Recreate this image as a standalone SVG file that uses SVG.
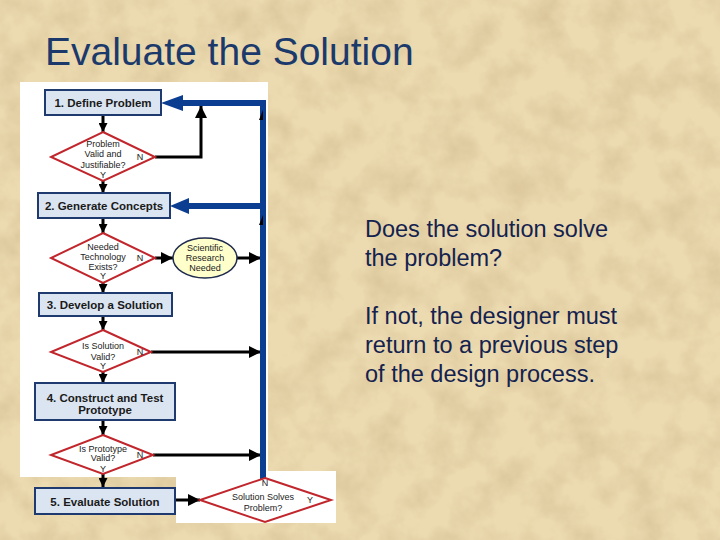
<svg xmlns="http://www.w3.org/2000/svg" width="720" height="540" viewBox="0 0 720 540">
<defs>
<filter id="parch" x="0" y="0" width="100%" height="100%">
<feTurbulence type="fractalNoise" baseFrequency="0.03" numOctaves="4" seed="7"/>
<feColorMatrix type="matrix" values="0 0 0 0 0.62  0 0 0 0 0.48  0 0 0 0 0.26  1.1 0 0 0 -0.42"/>
</filter>
<marker id="ah" viewBox="0 0 10 10" refX="10" refY="5" markerWidth="12" markerHeight="12" markerUnits="userSpaceOnUse" orient="auto">
<path d="M0,0 L10,5 L0,10 z" fill="#000"/>
</marker>
<marker id="ahs" viewBox="0 0 10 10" refX="10" refY="5" markerWidth="9" markerHeight="9" markerUnits="userSpaceOnUse" orient="auto">
<path d="M0,0 L10,5 L0,10 z" fill="#000"/>
</marker>
<style>
.box{fill:#dbe5f1;stroke:#1f3a6e;stroke-width:2}
.dia{fill:#fff;stroke:#c0262c;stroke-width:2}
.bt{font-family:"Liberation Sans",Arial,sans-serif;font-weight:bold;font-size:11.5px;fill:#1a1a1a;text-anchor:middle}
.dt{font-family:"Liberation Sans",Arial,sans-serif;font-size:9px;fill:#222;text-anchor:middle}
.blk{stroke:#000;stroke-width:3;fill:none}
.blue{stroke:#0b3d91;stroke-width:6;fill:none}
.body{font-family:"Liberation Sans",Arial,sans-serif;font-size:23.5px;fill:#14224e}
</style>
</defs>
<rect width="720" height="540" fill="#ecdab0"/>
<rect width="720" height="540" filter="url(#parch)"/>
<text x="45" y="65" font-family="Liberation Sans,Arial,sans-serif" font-size="39" fill="#1b3a6b">Evaluate the Solution</text>
<g id="body-text" class="body">
<text x="365" y="237">Does the solution solve</text>
<text x="365" y="266">the problem?</text>
<text x="365" y="324">If not, the designer must</text>
<text x="365" y="353">return to a previous step</text>
<text x="365" y="382">of the design process.</text>
</g>
<rect x="20" y="82" width="248" height="395" fill="#fff"/>
<rect x="176" y="471" width="160" height="52" fill="#fff"/>
<g id="connectors">
<line class="blk" x1="103" y1="115" x2="103" y2="132" marker-end="url(#ahs)"/>
<line class="blk" x1="103" y1="181" x2="103" y2="193" marker-end="url(#ahs)"/>
<line class="blk" x1="103" y1="218" x2="103" y2="233" marker-end="url(#ahs)"/>
<line class="blk" x1="103" y1="283" x2="103" y2="293" marker-end="url(#ahs)"/>
<line class="blk" x1="103" y1="316" x2="103" y2="330" marker-end="url(#ahs)"/>
<line class="blk" x1="103" y1="372" x2="103" y2="383" marker-end="url(#ahs)"/>
<line class="blk" x1="103" y1="420" x2="103" y2="435" marker-end="url(#ahs)"/>
<line class="blk" x1="103" y1="474" x2="103" y2="487" marker-end="url(#ahs)"/>
<polyline class="blk" points="155,157 201,157 201,106" marker-end="url(#ah)"/>
<line class="blk" x1="155" y1="258" x2="173" y2="258" marker-end="url(#ah)"/>
<line class="blk" x1="237" y1="258" x2="261" y2="258" marker-end="url(#ah)"/>
<line class="blk" x1="151" y1="352" x2="261" y2="352" marker-end="url(#ah)"/>
<line class="blk" x1="153" y1="455" x2="261" y2="455" marker-end="url(#ah)"/>
<line class="blk" x1="175" y1="500" x2="200" y2="500" marker-end="url(#ah)"/>
<polyline class="blue" points="263,480 263,103 180,103"/>
<polygon points="161,103 183,95 183,111" fill="#0b3d91"/>
<line class="blue" x1="263" y1="206" x2="186" y2="206"/>
<polygon points="170,206 189,198 189,214" fill="#0b3d91"/>
<polygon points="263,110 259,120 263,120" fill="#000"/>
<polygon points="263,215 259,225 263,225" fill="#000"/>
</g>
<g id="n1">
<rect class="box" x="45" y="90" width="116" height="25"/>
<text class="bt" x="103" y="107">1. Define Problem</text>
</g>
<g id="d1">
<polygon class="dia" points="103,132 155,157 103,181 51,157"/>
<text class="dt" x="103" y="147">Problem</text>
<text class="dt" x="103" y="157">Valid and</text>
<text class="dt" x="103" y="168">Justifiable?</text>
<text class="dt" x="140" y="160">N</text>
<text class="dt" x="103" y="178">Y</text>
</g>
<g id="n2">
<rect class="box" x="38" y="193" width="132" height="25"/>
<text class="bt" x="104" y="210">2. Generate Concepts</text>
</g>
<g id="d2">
<polygon class="dia" points="103,233 155,258 103,283 51,258"/>
<text class="dt" x="103" y="250">Needed</text>
<text class="dt" x="103" y="260">Technology</text>
<text class="dt" x="103" y="270">Exists?</text>
<text class="dt" x="140" y="261">N</text>
<text class="dt" x="103" y="279">Y</text>
</g>
<g id="research">
<ellipse cx="205" cy="258" rx="32" ry="20" fill="#ffffcc" stroke="#1f2a4e" stroke-width="1.5"/>
<text class="dt" x="205" y="251">Scientific</text>
<text class="dt" x="205" y="261">Research</text>
<text class="dt" x="205" y="271">Needed</text>
</g>
<g id="n3">
<rect class="box" x="39" y="293" width="133" height="23"/>
<text class="bt" x="105" y="309">3. Develop a Solution</text>
</g>
<g id="d3">
<polygon class="dia" points="103,330 151,352 103,372 51,352"/>
<text class="dt" x="103" y="349">Is Solution</text>
<text class="dt" x="103" y="360">Valid?</text>
<text class="dt" x="140" y="355">N</text>
<text class="dt" x="103" y="369">Y</text>
</g>
<g id="n4">
<rect class="box" x="35" y="383" width="140" height="37"/>
<text class="bt" x="105" y="402">4. Construct and Test</text>
<text class="bt" x="105" y="414">Prototype</text>
</g>
<g id="d4">
<polygon class="dia" points="103,435 153,455 103,474 51,455"/>
<text class="dt" x="103" y="452">Is Prototype</text>
<text class="dt" x="103" y="461">Valid?</text>
<text class="dt" x="140" y="458">N</text>
<text class="dt" x="103" y="472">Y</text>
</g>
<g id="n5">
<rect class="box" x="35" y="488" width="140" height="26"/>
<text class="bt" x="105" y="506">5.  Evaluate Solution</text>
</g>
<g id="d5">
<polygon class="dia" points="265,478 331,500 265,522 200,500"/>
<text class="dt" x="265" y="486">N</text>
<text class="dt" x="263" y="500">Solution Solves</text>
<text class="dt" x="263" y="511">Problem?</text>
<text class="dt" x="310" y="503">Y</text>
</g>
</svg>
